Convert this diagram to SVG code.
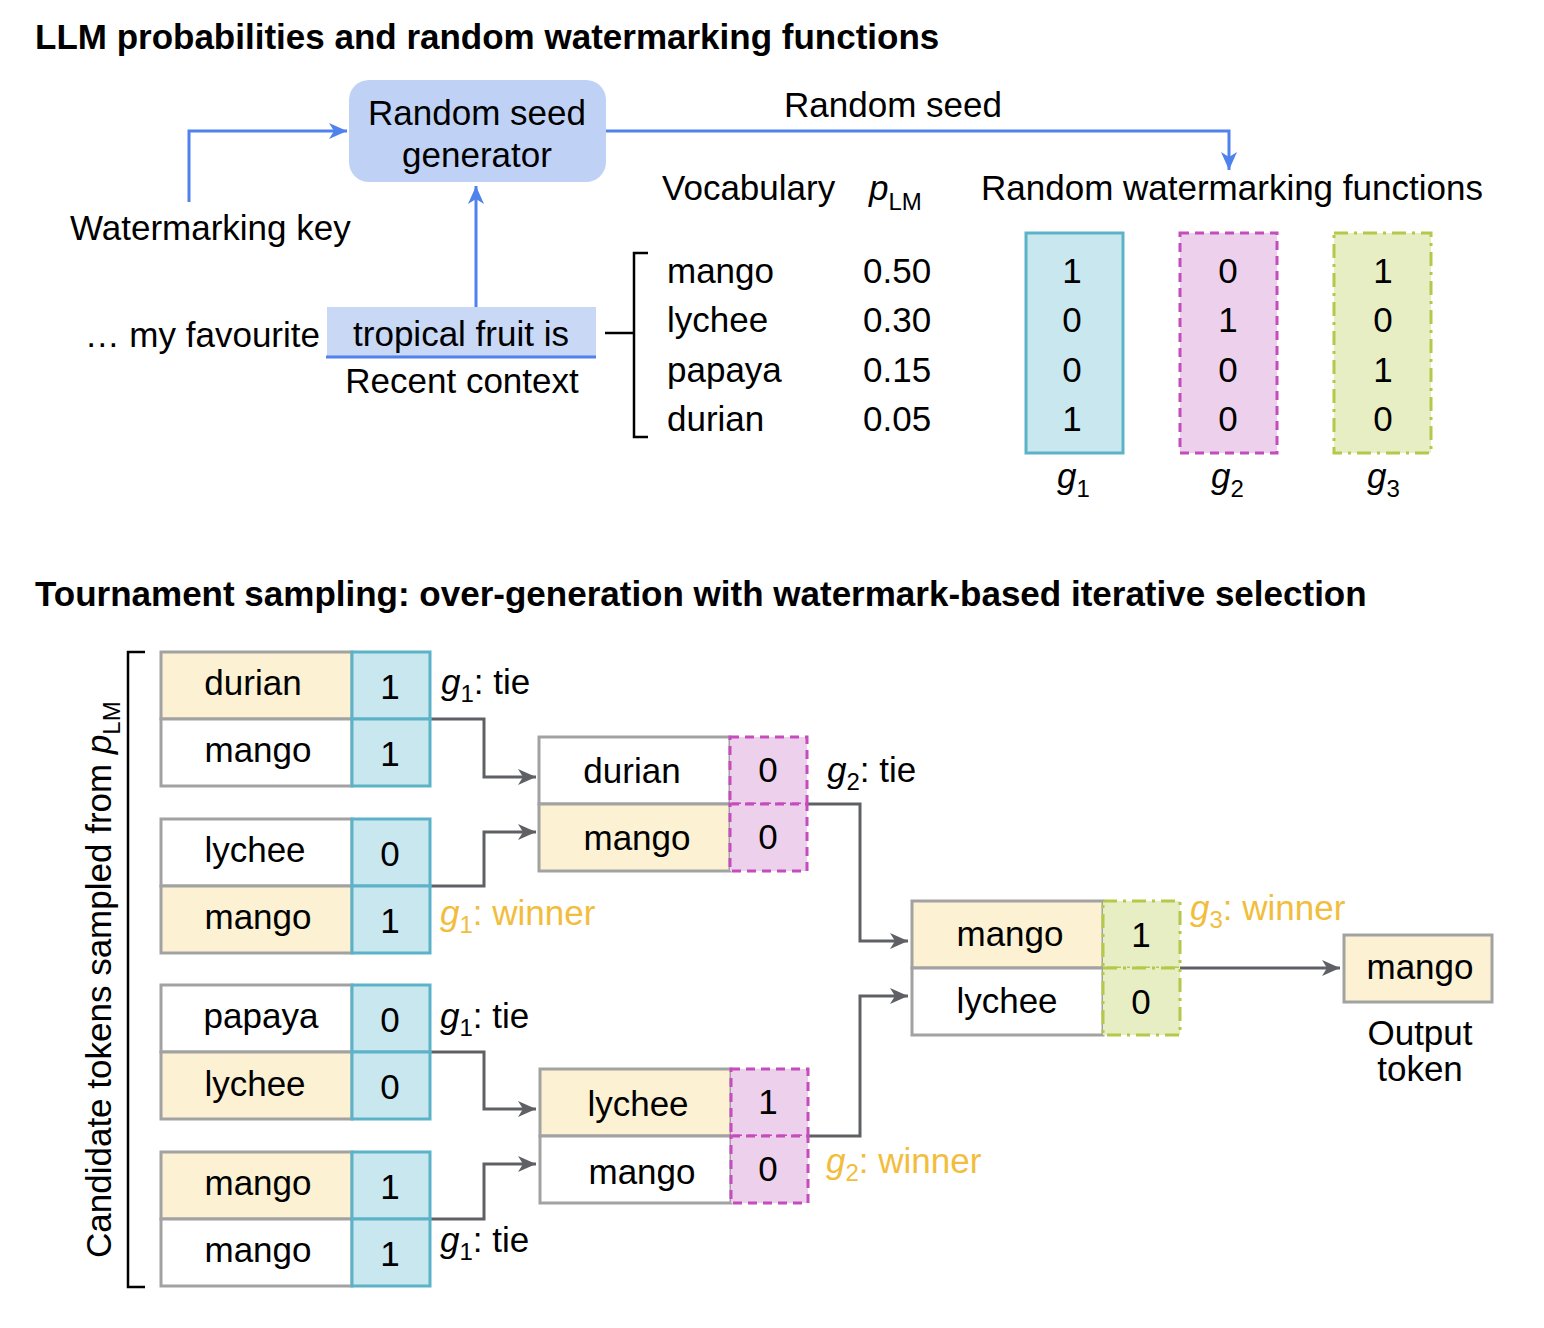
<svg xmlns="http://www.w3.org/2000/svg" width="1544" height="1328" viewBox="0 0 1544 1328">
<style>
text{font-family:"Liberation Sans",Arial,sans-serif;font-size:35px;fill:#000}
.title{font-weight:bold;font-size:35px}
.c{text-anchor:middle}
.it{font-style:italic}
.sub{font-size:24px}
.win{fill:#f2bd3c}
.word{stroke:#a2a2a2;stroke-width:3}
.yel{fill:#fcf1d2}
.wht{fill:#fff}
.g1{fill:#c9e7ef;stroke:#5cb3c8;stroke-width:3}
.g2{fill:#edd1ec;stroke:#c44cbb;stroke-width:3;stroke-dasharray:9 6}
.g3{fill:#e7eec3;stroke:#b6c84a;stroke-width:3;stroke-dasharray:14 6 3 6}
.blue{fill:none;stroke:#4f82ec;stroke-width:3}
.gray{fill:none;stroke:#5f6065;stroke-width:3}
.blk{fill:none;stroke:#000;stroke-width:2.5}
</style>
<defs>
<marker id="ab" markerUnits="userSpaceOnUse" markerWidth="20" markerHeight="16" refX="18" refY="8" orient="auto"><path d="M0,0 L18,8 L0,16 L5,8 z" fill="#4f82ec"/></marker>
<marker id="ag" markerUnits="userSpaceOnUse" markerWidth="20" markerHeight="16" refX="18" refY="8" orient="auto"><path d="M0,0 L18,8 L0,16 L5,8 z" fill="#5f6065"/></marker>
</defs>

<text class="title" x="35" y="49">LLM probabilities and random watermarking functions</text>
<text class="title" x="35" y="606">Tournament sampling: over-generation with watermark-based iterative selection</text>

<g id="connectors">
<path class="blue" d="M189,202 V131 H347" marker-end="url(#ab)"/>
<path class="blue" d="M476,307 V186" marker-end="url(#ab)"/>
<path class="blue" d="M606,131 H1229 V170" marker-end="url(#ab)"/>
<path class="blk" d="M605,333 H634"/>
<path class="gray" d="M430,719 H484 V777 H536" marker-end="url(#ag)"/>
<path class="gray" d="M430,886 H484 V832 H536" marker-end="url(#ag)"/>
<path class="gray" d="M430,1052 H484 V1109 H536" marker-end="url(#ag)"/>
<path class="gray" d="M430,1219 H484 V1164 H536" marker-end="url(#ag)"/>
<path class="gray" d="M807,804 H860 V941 H908" marker-end="url(#ag)"/>
<path class="gray" d="M807,1136 H860 V996 H908" marker-end="url(#ag)"/>
<path class="gray" d="M1180,968 H1340" marker-end="url(#ag)"/>
</g>

<g id="seed-generator">
<rect x="349" y="80" width="257" height="102" rx="20" fill="#bfd2f6"/>
<text class="c" x="477" y="125">Random seed</text>
<text class="c" x="477" y="167">generator</text>
</g>
<g id="watermarking-key"><text x="70" y="240">Watermarking key</text></g>
<g id="random-seed-label"><text class="c" x="893" y="117">Random seed</text></g>
<g id="context">
<text x="320" y="347" text-anchor="end">… my favourite</text>
<rect x="327" y="307" width="269" height="50" fill="#c8d8f5"/>
<path class="blue" d="M326,357 H596"/>
<text class="c" x="461" y="346">tropical fruit is</text>
<text class="c" x="462" y="393">Recent context</text>
</g>
<g id="vocabulary">
<path class="blk" d="M648,253 H634 V437 H648"/>
<text x="662" y="200">Vocabulary</text>
<text x="869" y="200"><tspan class="it">p</tspan><tspan class="sub" dy="10">LM</tspan></text>
<text x="667" y="283">mango</text>
<text x="667" y="332">lychee</text>
<text x="667" y="382">papaya</text>
<text x="667" y="431">durian</text>
<text x="863" y="283">0.50</text>
<text x="863" y="332">0.30</text>
<text x="863" y="382">0.15</text>
<text x="863" y="431">0.05</text>
</g>
<g id="functions-title"><text x="981" y="200">Random watermarking functions</text></g>
<g id="g1">
<rect class="g1" x="1026" y="233" width="97" height="220"/>
<text class="c" x="1072" y="283">1</text><text class="c" x="1072" y="332">0</text><text class="c" x="1072" y="382">0</text><text class="c" x="1072" y="431">1</text>
<text x="1057" y="488"><tspan class="it">g</tspan><tspan class="sub" dy="9">1</tspan></text>
</g>
<g id="g2">
<rect class="g2" x="1180" y="233" width="97" height="220"/>
<text class="c" x="1228" y="283">0</text><text class="c" x="1228" y="332">1</text><text class="c" x="1228" y="382">0</text><text class="c" x="1228" y="431">0</text>
<text x="1211" y="488"><tspan class="it">g</tspan><tspan class="sub" dy="9">2</tspan></text>
</g>
<g id="g3">
<rect class="g3" x="1334" y="233" width="97" height="220"/>
<text class="c" x="1383" y="283">1</text><text class="c" x="1383" y="332">0</text><text class="c" x="1383" y="382">1</text><text class="c" x="1383" y="431">0</text>
<text x="1367" y="488"><tspan class="it">g</tspan><tspan class="sub" dy="9">3</tspan></text>
</g>

<g id="candidates-label">
<path class="blk" d="M145,652 H128 V1287 H145"/>
<text transform="translate(111,1258) rotate(-90)">Candidate tokens sampled from <tspan class="it">p</tspan><tspan class="sub" dy="9">LM</tspan></text>
</g>

<g id="r1-pair1">
<rect class="word yel" x="161" y="652" width="191" height="67"/>
<rect class="word wht" x="161" y="719" width="191" height="67"/>
<rect class="g1" x="352" y="652" width="78" height="67"/>
<rect class="g1" x="352" y="719" width="78" height="67"/>
<text class="c" x="253" y="695">durian</text><text class="c" x="258" y="762">mango</text>
<text class="c" x="390" y="699">1</text><text class="c" x="390" y="766">1</text>
<text x="441" y="694"><tspan class="it">g</tspan><tspan class="sub" dy="8">1</tspan><tspan dy="-8">: tie</tspan></text>
</g>
<g id="r1-pair2">
<rect class="word wht" x="161" y="819" width="191" height="67"/>
<rect class="word yel" x="161" y="886" width="191" height="67"/>
<rect class="g1" x="352" y="819" width="78" height="67"/>
<rect class="g1" x="352" y="886" width="78" height="67"/>
<text class="c" x="255" y="862">lychee</text><text class="c" x="258" y="929">mango</text>
<text class="c" x="390" y="866">0</text><text class="c" x="390" y="933">1</text>
<text class="win" x="440" y="925"><tspan class="it">g</tspan><tspan class="sub" dy="8">1</tspan><tspan dy="-8">: winner</tspan></text>
</g>
<g id="r1-pair3">
<rect class="word wht" x="161" y="985" width="191" height="67"/>
<rect class="word yel" x="161" y="1052" width="191" height="67"/>
<rect class="g1" x="352" y="985" width="78" height="67"/>
<rect class="g1" x="352" y="1052" width="78" height="67"/>
<text class="c" x="261" y="1028">papaya</text><text class="c" x="255" y="1096">lychee</text>
<text class="c" x="390" y="1032">0</text><text class="c" x="390" y="1099">0</text>
<text x="440" y="1028"><tspan class="it">g</tspan><tspan class="sub" dy="8">1</tspan><tspan dy="-8">: tie</tspan></text>
</g>
<g id="r1-pair4">
<rect class="word yel" x="161" y="1152" width="191" height="67"/>
<rect class="word wht" x="161" y="1219" width="191" height="67"/>
<rect class="g1" x="352" y="1152" width="78" height="67"/>
<rect class="g1" x="352" y="1219" width="78" height="67"/>
<text class="c" x="258" y="1195">mango</text><text class="c" x="258" y="1262">mango</text>
<text class="c" x="390" y="1199">1</text><text class="c" x="390" y="1266">1</text>
<text x="440" y="1252"><tspan class="it">g</tspan><tspan class="sub" dy="8">1</tspan><tspan dy="-8">: tie</tspan></text>
</g>

<g id="r2-match1">
<rect class="word wht" x="539" y="737" width="191" height="67"/>
<rect class="word yel" x="539" y="804" width="191" height="67"/>
<rect class="g2" x="730" y="737" width="77" height="67"/>
<rect class="g2" x="730" y="804" width="77" height="67"/>
<text class="c" x="632" y="783">durian</text><text class="c" x="637" y="850">mango</text>
<text class="c" x="768" y="782">0</text><text class="c" x="768" y="849">0</text>
<text x="827" y="782"><tspan class="it">g</tspan><tspan class="sub" dy="8">2</tspan><tspan dy="-8">: tie</tspan></text>
</g>
<g id="r2-match2">
<rect class="word yel" x="540" y="1069" width="191" height="67"/>
<rect class="word wht" x="540" y="1136" width="191" height="67"/>
<rect class="g2" x="731" y="1069" width="77" height="67"/>
<rect class="g2" x="731" y="1136" width="77" height="67"/>
<text class="c" x="638" y="1116">lychee</text><text class="c" x="642" y="1184">mango</text>
<text class="c" x="768" y="1114">1</text><text class="c" x="768" y="1181">0</text>
<text class="win" x="826" y="1173"><tspan class="it">g</tspan><tspan class="sub" dy="8">2</tspan><tspan dy="-8">: winner</tspan></text>
</g>

<g id="r3-match">
<rect class="word yel" x="912" y="901" width="191" height="67"/>
<rect class="word wht" x="912" y="968" width="191" height="67"/>
<rect class="g3" x="1103" y="901" width="77" height="67"/>
<rect class="g3" x="1103" y="968" width="77" height="67"/>
<text class="c" x="1010" y="946">mango</text><text class="c" x="1007" y="1013">lychee</text>
<text class="c" x="1141" y="947">1</text><text class="c" x="1141" y="1014">0</text>
<text class="win" x="1190" y="920"><tspan class="it">g</tspan><tspan class="sub" dy="8">3</tspan><tspan dy="-8">: winner</tspan></text>
</g>

<g id="output-token">
<rect class="word yel" x="1344" y="935" width="148" height="67"/>
<text class="c" x="1420" y="979">mango</text>
<text class="c" x="1420" y="1045">Output</text>
<text class="c" x="1420" y="1081">token</text>
</g>
</svg>
